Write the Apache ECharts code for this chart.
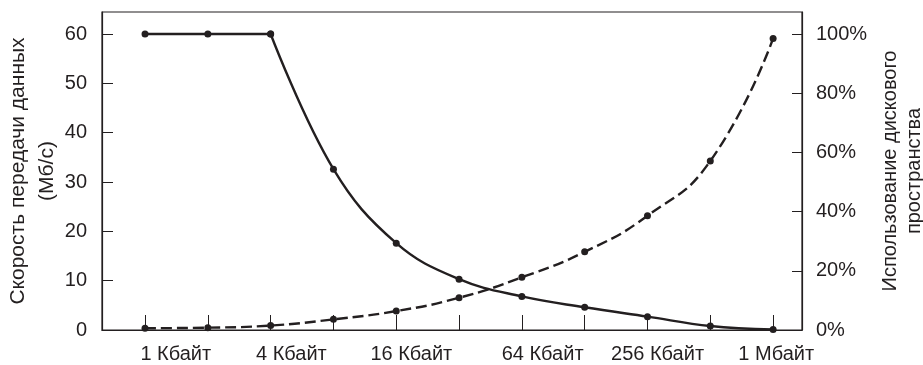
<!DOCTYPE html>
<html>
<head>
<meta charset="utf-8">
<script src="https://cdn.jsdelivr.net/npm/echarts@6/dist/echarts.min.js"></script>
<style>
  html, body { margin: 0; padding: 0; background: #fff; }
  #chart { width: 923px; height: 365px; }
</style>
</head>
<body>
<div id="chart"></div>
<script>
// block sizes on the x axis
var categories = ['1 Кбайт', '2 Кбайт', '4 Кбайт', '8 Кбайт', '16 Кбайт', '32 Кбайт',
  '64 Кбайт', '128 Кбайт', '256 Кбайт', '512 Кбайт', '1 Мбайт']
// data rate, Мб/с (left axis, solid line)
var rateValues = [60, 60, 60, 32.6, 17.6, 10.3, 6.8, 4.6, 2.7, 0.8, 0.1]
// disk space usage, % (right axis, dashed line)
var usageValues = [0.6, 0.8, 1.5, 3.6, 6.4, 10.9, 17.8, 26.4, 38.6, 57.1, 98.5]
var leftTicks = [0, 10, 20, 30, 40, 50, 60]
var rightTicks = [0, 20, 40, 60, 80, 100]
var labelledIdx = [0, 2, 4, 6, 8, 10]

// labels in the picture sit a little to the right of their ticks (in category units)
var labelShift = [0.49, 0.33, 0.24, 0.33, 0.16, 0.05]

var ink = '#231f20'
var font = "'Liberation Sans', Arial, sans-serif"

var chart = echarts.init(document.getElementById('chart'), null, { renderer: 'canvas' })

function pairs(arr, from, to) {
  var out = []
  for (var i = from; i <= to; i++) out.push([i, arr[i]])
  return out
}
// the rate curve is flat up to its last maximum, then falls smoothly
var flatEnd = rateValues.lastIndexOf(Math.max.apply(null, rateValues))

var lineStyleBase = { color: ink, width: 2.4 }

var option = {
  animation: false,
  backgroundColor: '#fff',
  grid: {
    left: 102, right: 121, top: 12, bottom: 35,
    containLabel: false,
    outerBoundsMode: 'none',
    show: true, borderColor: ink, borderWidth: 1.2
  },
  xAxis: {
    type: 'value',
    min: -0.685,
    max: 10.46,
    splitLine: { show: false },
    axisLine: { show: true, onZero: false, lineStyle: { color: ink, width: 1.2 } },
    axisTick: {
      show: true, inside: true, length: 15,
      customValues: categories.map(function (c, i) { return i }),
      lineStyle: { color: ink, width: 1 }
    },
    axisLabel: {
      customValues: labelledIdx.map(function (i, k) { return i + labelShift[k] }),
      formatter: function (v) { return categories[Math.round(v)] },
      color: ink, fontSize: 20, fontFamily: font, margin: 14
    }
  },
  yAxis: [{
    type: 'value',
    position: 'left',
    min: 0,
    max: 64.46,
    name: 'Скорость передачи данных\n(Мб/с)',
    nameLocation: 'middle',
    nameMoveOverlap: false,
    nameGap: 40,
    nameTextStyle: { color: ink, fontSize: 21, fontFamily: font, lineHeight: 29 },
    splitLine: { show: false },
    axisLine: { show: true, onZero: false, lineStyle: { color: ink, width: 1.2 } },
    axisTick: { show: true, inside: true, length: 11, customValues: leftTicks, lineStyle: { color: ink, width: 1 } },
    axisLabel: { customValues: leftTicks, color: ink, fontSize: 20, fontFamily: font, margin: 15 }
  }, {
    type: 'value',
    position: 'right',
    min: 0,
    max: 107.43,
    name: 'Использование дискового\nпространства',
    nameLocation: 'middle',
    nameGap: 74,
    nameTextStyle: { color: ink, fontSize: 20, fontFamily: font, lineHeight: 24 },
    splitLine: { show: false },
    axisLine: { show: true, onZero: false, lineStyle: { color: ink, width: 1.2 } },
    axisTick: { show: true, inside: true, length: 10, customValues: rightTicks, lineStyle: { color: ink, width: 1 } },
    axisLabel: {
      customValues: rightTicks, formatter: '{value}%',
      color: ink, fontSize: 20, fontFamily: font, margin: 14
    }
  }],
  series: [{
    name: 'rate-flat',
    type: 'line',
    yAxisIndex: 0,
    data: pairs(rateValues, 0, flatEnd),
    symbol: 'circle', symbolSize: 7,
    itemStyle: { color: ink },
    lineStyle: lineStyleBase
  }, {
    name: 'rate',
    type: 'line',
    yAxisIndex: 0,
    smooth: 0.4,
    data: pairs(rateValues, flatEnd, rateValues.length - 1),
    symbol: 'circle', symbolSize: 7,
    itemStyle: { color: ink },
    lineStyle: lineStyleBase
  }, {
    name: 'usage',
    type: 'line',
    yAxisIndex: 1,
    smooth: 0.5,
    data: pairs(usageValues, 0, usageValues.length - 1),
    symbol: 'circle', symbolSize: 7,
    itemStyle: { color: ink },
    lineStyle: { color: ink, width: 2.4, type: [11, 5] }
  }]
}
chart.setOption(option)
</script>
</body>
</html>
